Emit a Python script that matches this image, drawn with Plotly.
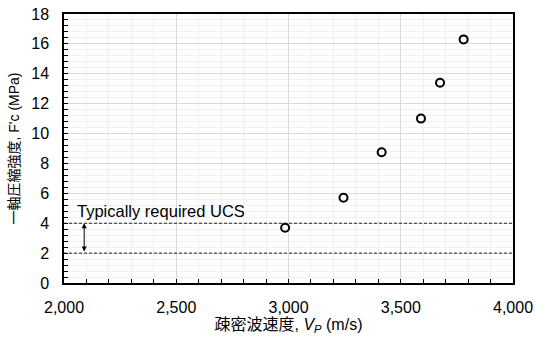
import plotly.graph_objects as go

vp = [2985, 3245, 3415, 3590, 3675, 3780]
ucs = [3.7, 5.7, 8.75, 11.0, 13.4, 16.3]
req_low, req_high = 2, 4
x_ticks = [2000, 2500, 3000, 3500, 4000]
y_ticks = [0, 2, 4, 6, 8, 10, 12, 14, 16, 18]

FONT = "Liberation Sans, Arial, Noto Sans CJK JP, sans-serif"
FS = 16

fig = go.Figure()
fig.add_trace(go.Scatter(
    x=vp, y=ucs, mode="markers",
    marker=dict(symbol="circle-open", size=8, color="black", line=dict(width=2, color="black")),
    showlegend=False, cliponaxis=False,
))

for yv in (req_low, req_high):
    fig.add_shape(type="line", xref="paper", x0=0, x1=1, yref="y", y0=yv, y1=yv,
                  line=dict(color="#222222", width=1, dash="3px,2px"))

fig.add_annotation(x=2090, y=req_high, ax=2090, ay=req_low, xref="x", yref="y",
                   axref="x", ayref="y", showarrow=True, arrowhead=2, arrowside="end+start",
                   arrowsize=1, arrowwidth=1, arrowcolor="black", text="")
fig.add_annotation(x=2050, y=4.85, xref="x", yref="y", text="Typically required UCS",
                   showarrow=False, xanchor="left", yanchor="middle",
                   font=dict(size=16.5, color="black", family=FONT))

axis_common = dict(
    showline=True, linecolor="black", linewidth=1.5, mirror=True,
    ticks="inside", ticklen=4, tickcolor="black", tickwidth=1,
    gridcolor="#d9d9d9", gridwidth=1, zeroline=False, automargin=False,
    tickfont=dict(size=FS, color="black", family=FONT),
)
fig.update_xaxes(range=[2000, 4000], tickvals=x_ticks, tickformat=",d",
                 ticklabelstandoff=9,
                 minor=dict(dtick=100, showgrid=True, gridcolor="#f0f0f0", ticks="inside",
                            ticklen=4, tickcolor="black"),
                 title=dict(text="疎密波速度, <i>V<sub>P</sub></i> (m/s)",
                            font=dict(size=FS, color="black", family=FONT), standoff=0),
                 **axis_common)
fig.update_yaxes(range=[0, 18], tickvals=y_ticks, ticklabelstandoff=10,
                 minor=dict(dtick=0.4, showgrid=True, gridcolor="#f0f0f0", ticks="inside",
                            ticklen=4, tickcolor="black"),
                 title=dict(text="一軸圧縮強度, F'c (MPa)",
                            font=dict(size=14, color="black", family=FONT), standoff=8),
                 **axis_common)

fig.update_layout(
    width=535, height=338,
    margin=dict(l=64, r=22, t=14, b=55),
    plot_bgcolor="white", paper_bgcolor="white",
    font=dict(family=FONT, color="black"),
)
fig.write_html("out.html")
